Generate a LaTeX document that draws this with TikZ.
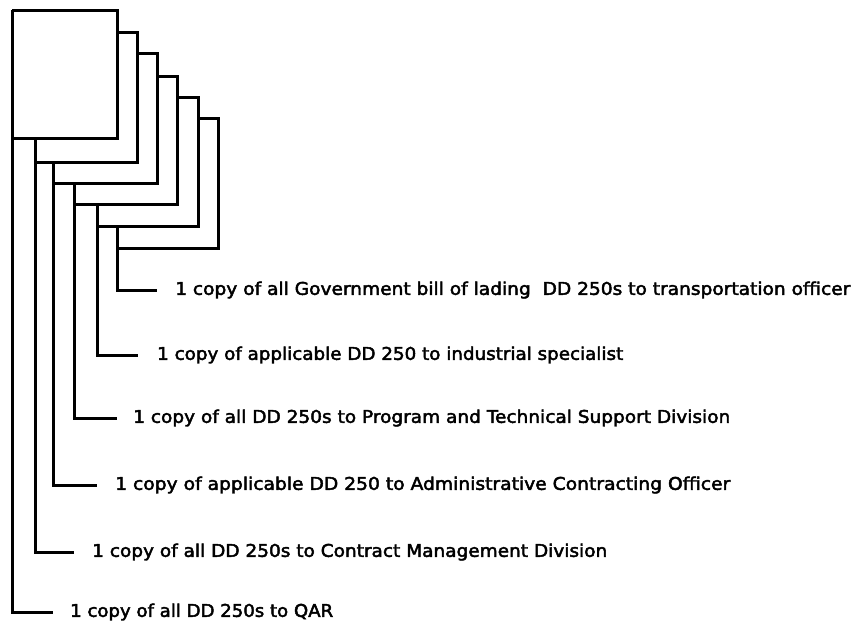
\documentclass[tikz,border=0pt]{standalone}
\usepackage{fontspec}
\setmainfont{DejaVu Sans}
\newfontfamily\lblfont[FakeBold=2.5]{DejaVu Sans}
\usepackage{graphicx}
\newcommand\fitto[2]{\resizebox{#1}{\height}{#2}}
\tikzset{
  sheetline/.style={draw=black, line width=3pt, line join=miter},
  lbl/.style={anchor=west, inner sep=0pt, font=\lblfont\fontsize{17.5}{20}\selectfont},
}
\begin{document}
\begin{tikzpicture}[x=1pt,y=-1pt]
\useasboundingbox[fill=white] (0,0) rectangle (854,625);
% labels
\node[lbl] (q6) at (175,290) {\fitto{675pt}{1 copy of all Government bill of lading~ DD 250s to transportation officer}};
\node[lbl] (q5) at (157,355) {\fitto{466pt}{1 copy of applicable DD 250 to industrial specialist}};
\node[lbl] (q4) at (133,418) {\fitto{597pt}{1 copy of all DD 250s to Program and Technical Support Division}};
\node[lbl] (q3) at (115,485) {\fitto{615pt}{1 copy of applicable DD 250 to Administrative Contracting Officer}};
\node[lbl] (q2) at (92,552) {\fitto{515pt}{1 copy of all DD 250s to Contract Management Division}};
\node[lbl] (q1) at (70,612) {\fitto{263pt}{1 copy of all DD 250s to QAR}};
% corner points where each sheet's left edge becomes visible
\coordinate (s1) at (12,10);
\coordinate (s2) at (35,138);
\coordinate (s3) at (53,162);
\coordinate (s4) at (74,183);
\coordinate (s5) at (97,204);
\coordinate (s6) at (117,226);
% stacked sheets
\draw[sheetline] (12,138) -- (117,138) -- (117,10) -- (12,10);
\draw[sheetline] (117,32) -- (137,32) -- (137,162) -- (35,162);
\draw[sheetline] (137,53) -- (157,53) -- (157,183) -- (53,183);
\draw[sheetline] (157,76) -- (177,76) -- (177,204) -- (74,204);
\draw[sheetline] (177,97) -- (198,97) -- (198,226) -- (97,226);
\draw[sheetline] (198,118) -- (218,118) -- (218,248) -- (117,248);
% leads from each sheet's left edge to its label
\draw[sheetline] (s1) |- ([xshift=-17pt]q1.west);
\draw[sheetline] (s2) |- ([xshift=-18pt]q2.west);
\draw[sheetline] (s3) |- ([xshift=-18pt]q3.west);
\draw[sheetline] (s4) |- ([xshift=-16pt]q4.west);
\draw[sheetline] (s5) |- ([xshift=-19pt]q5.west);
\draw[sheetline] (s6) |- ([xshift=-18pt]q6.west);
\end{tikzpicture}
\end{document}
